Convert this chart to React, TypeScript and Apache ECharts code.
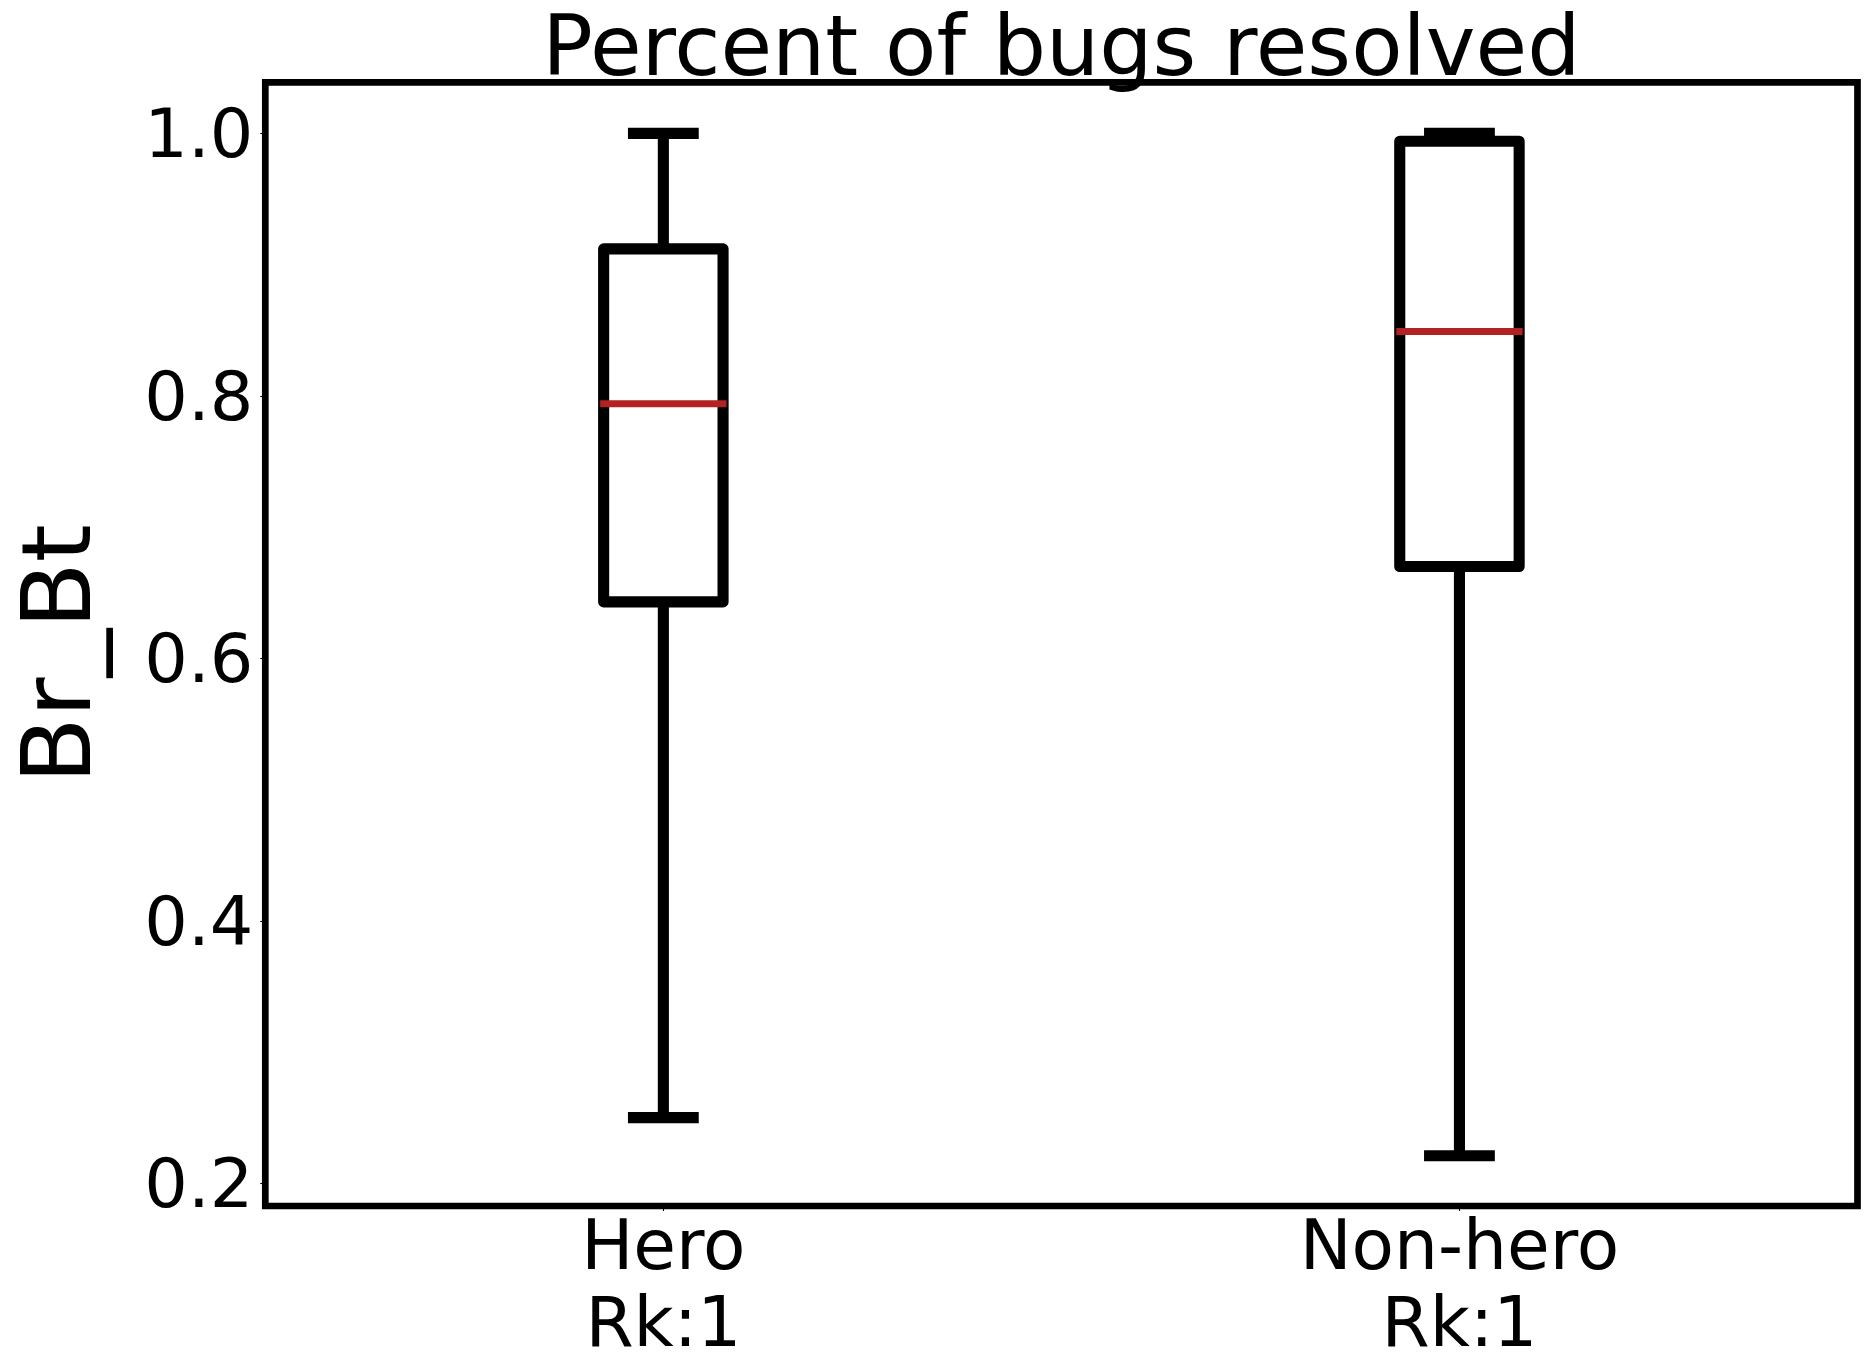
import React, { useEffect, useRef } from "react";
import * as echarts from "echarts";

const categories = ["Hero\nRk:1", "Non-hero\nRk:1"];
const lowWhisker = [0.25, 0.221];
const q1Values = [0.643, 0.670];
const medianValues = [0.794, 0.849];
const q3Values = [0.912, 0.994];
const highWhisker = [1.0, 1.0];
const yTicks = [0.2, 0.4, 0.6, 0.8, 1.0];
const titleText = "Percent of bugs resolved";
const yLabel = "Br_Bt";

const FONT = "DejaVu Sans";

export default function App() {
  const ref = useRef<HTMLDivElement>(null);
  useEffect(() => {
    if (!ref.current) return;
    const chart = echarts.init(ref.current, null, { renderer: "svg" });
    const data = categories.map((_, i) => [
      i,
      lowWhisker[i],
      q1Values[i],
      medianValues[i],
      q3Values[i],
      highWhisker[i],
    ]);
    const LW = 11.1;
    const option: any = {
      animation: false,
      backgroundColor: "#fff",
      grid: {
        left: 265.3,
        top: 82.3,
        width: 1592.2,
        height: 1123.7,
        show: true,
        borderColor: "#000",
        borderWidth: 6.7,
        backgroundColor: "transparent",
        containLabel: false,
      },
      xAxis: {
        type: "category",
        data: categories,
        boundaryGap: true,
        axisLine: { show: false },
        axisTick: {
          show: true,
          alignWithLabel: true,
          length: 5,
          lineStyle: { color: "#000", width: 1.1 },
        },
        axisLabel: {
          fontFamily: FONT,
          fontSize: 69.4,
          lineHeight: 77.4,
          color: "#000",
          margin: 0,
          interval: 0,
        },
        splitLine: { show: false },
      },
      yAxis: {
        type: "value",
        min: 0.1827,
        max: 1.0389,
        axisLine: { show: false },
        axisTick: {
          show: true,
          length: 5,
          customValues: yTicks,
          lineStyle: { color: "#000", width: 1.1 },
        },
        axisLabel: {
          customValues: yTicks,
          fontFamily: FONT,
          fontSize: 68.5,
          color: "#000",
          margin: 12,
          formatter: (v: number) => v.toFixed(1),
        },
        splitLine: { show: false },
      },
      graphic: [
        {
          type: "text",
          x: 1061.4,
          y: 45.5,
          style: {
            text: titleText,
            fontFamily: FONT,
            fontSize: 84,
            fill: "#000",
            align: "center",
            verticalAlign: "middle",
          },
          z: 100,
        },
        {
          type: "text",
          x: 56.4,
          y: 654,
          rotation: Math.PI / 2,
          style: {
            text: yLabel,
            fontFamily: FONT,
            fontSize: 97,
            fill: "#000",
            align: "center",
            verticalAlign: "middle",
          },
        },
      ],
      series: [
        {
          type: "custom",
          data,
          encode: { x: 0, y: [1, 2, 3, 4, 5] },
          clip: false,
          renderItem: (params: any, api: any) => {
            const idx = api.value(0);
            const low = api.value(1);
            const q1 = api.value(2);
            const med = api.value(3);
            const q3 = api.value(4);
            const high = api.value(5);
            const band = api.size([1, 0])[0];
            const boxHalf = (band * 0.15) / 2;
            const capHalf = (band * 0.075) / 2;
            const pLow = api.coord([idx, low]);
            const pQ1 = api.coord([idx, q1]);
            const pMed = api.coord([idx, med]);
            const pQ3 = api.coord([idx, q3]);
            const pHigh = api.coord([idx, high]);
            const cx = pQ1[0];
            const black = { stroke: "#000", lineWidth: LW, fill: null };
            return {
              type: "group",
              children: [
                {
                  type: "line",
                  shape: { x1: cx, y1: pLow[1], x2: cx, y2: pQ1[1] },
                  style: { ...black, lineCap: "butt" },
                },
                {
                  type: "line",
                  shape: { x1: cx, y1: pQ3[1], x2: cx, y2: pHigh[1] },
                  style: { ...black, lineCap: "butt" },
                },
                {
                  type: "line",
                  shape: { x1: cx - capHalf, y1: pLow[1], x2: cx + capHalf, y2: pLow[1] },
                  style: { ...black, lineCap: "square" },
                },
                {
                  type: "line",
                  shape: { x1: cx - capHalf, y1: pHigh[1], x2: cx + capHalf, y2: pHigh[1] },
                  style: { ...black, lineCap: "square" },
                },
                {
                  type: "polygon",
                  shape: {
                    points: [
                      [cx - boxHalf, pQ1[1]],
                      [cx - boxHalf, pQ3[1]],
                      [cx + boxHalf, pQ3[1]],
                      [cx + boxHalf, pQ1[1]],
                    ],
                  },
                  style: { stroke: "#000", lineWidth: LW, fill: "none", lineJoin: "round" },
                },
                {
                  type: "line",
                  shape: { x1: cx - boxHalf, y1: pMed[1], x2: cx + boxHalf, y2: pMed[1] },
                  style: { stroke: "#B22222", lineWidth: 6.9, lineCap: "square" },
                },
              ],
            };
          },
        },
      ],
    };
    chart.setOption(option);
    return () => chart.dispose();
  }, []);
  return (
    <div
      ref={ref}
      style={{ position: "absolute", left: 0, top: 0, width: 1870, height: 1370 }}
    />
  );
}
